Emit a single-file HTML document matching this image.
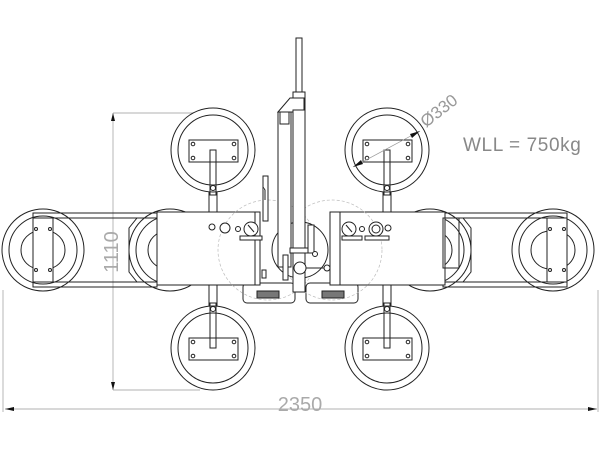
<!DOCTYPE html><html><head><style>html,body{margin:0;padding:0;background:#fff}svg{display:block}</style></head><body>
<svg width="600" height="450" viewBox="0 0 600 450" xmlns="http://www.w3.org/2000/svg" font-family="Liberation Sans, sans-serif">
<defs>
<g id="pad" fill="none" stroke="#222" stroke-width="1">
<circle r="42" fill="#fff"/><circle r="35"/>
<path d="M-19,8 A21,21 0 0 1 19,8" />
<rect x="-24" y="-10" width="49" height="22" fill="#fff"/>
<circle cx="-20" cy="-6" r="1.8"/><circle cx="21" cy="-6" r="1.8"/><circle cx="-20" cy="8" r="1.8"/><circle cx="21" cy="8" r="1.8"/>
</g>
<g id="spad" fill="none" stroke="#222" stroke-width="1">
<circle r="41" fill="#fff"/><circle r="34"/>
<path d="M-3,-19 A19,19 0 0 0 -3,19"/><path d="M3,-19 A19,19 0 0 1 3,19"/>
</g>
</defs>
<g stroke="#999" stroke-width="0.7" fill="none">
<line x1="113" y1="113" x2="113" y2="390"/>
<line x1="113" y1="113" x2="200" y2="113"/>
<line x1="113" y1="390" x2="200" y2="390"/>
<line x1="5" y1="409" x2="597" y2="409"/>
<line x1="3" y1="290" x2="3" y2="412"/>
<line x1="598" y1="290" x2="598" y2="412"/>
</g>
<path d="M113,113 l-2,8 h4z M113,390 l-2,-8 h4z M5,409 l9,-2 v4z M597,409 l-9,-2 v4z" fill="#111"/>
<text x="300" y="411" font-size="20" fill="#aaa" text-anchor="middle">2350</text>
<text transform="translate(118,252) rotate(-90)" font-size="20" fill="#aaa" text-anchor="middle">1110</text>
<g fill="#fff" stroke="#222" stroke-width="1">
<use href="#spad" x="43" y="250"/><use href="#spad" x="553" y="250"/>
<use href="#spad" x="170" y="250"/><use href="#spad" x="430" y="250"/>
<rect x="33" y="213" width="124" height="74" fill="none"/>
<line x1="33" y1="218" x2="157" y2="218"/><line x1="33" y1="282" x2="157" y2="282"/>
<rect x="443" y="213" width="124" height="74" fill="none"/>
<line x1="443" y1="218" x2="567" y2="218"/><line x1="443" y1="282" x2="567" y2="282"/>
<rect x="33" y="218" width="20" height="64"/><rect x="547" y="218" width="20" height="64"/>
<circle cx="36" cy="229" r="1.5"/><circle cx="50" cy="229" r="1.5"/><circle cx="36" cy="270" r="1.5"/><circle cx="50" cy="270" r="1.5"/>
<circle cx="550" cy="229" r="1.5"/><circle cx="564" cy="229" r="1.5"/><circle cx="550" cy="270" r="1.5"/><circle cx="564" cy="270" r="1.5"/>
<path d="M157,218 h-20 l-8,10 v44 l8,10 h20" fill="none"/>
<path d="M443,218 h20 l8,10 v44 l-8,10 h-20" fill="none"/>
</g>
<g fill="#fff" stroke="#222" stroke-width="1">
<rect x="209" y="150" width="8" height="62"/><rect x="383" y="150" width="8" height="62"/>
<rect x="209" y="285" width="8" height="63"/><rect x="383" y="285" width="8" height="63"/>
</g>
<use href="#pad" x="213" y="150"/><use href="#pad" x="387" y="150"/>
<use href="#pad" x="213" y="348"/><use href="#pad" x="387" y="348"/>
<g fill="#fff" stroke="#222" stroke-width="1">
<rect x="210" y="150" width="6" height="45" fill="none"/><circle cx="213" cy="188" r="2.5"/>
<rect x="384" y="150" width="6" height="45" fill="none"/><circle cx="387" cy="188" r="2.5"/>
<rect x="210" y="303" width="6" height="45" fill="none"/><rect x="384" y="303" width="6" height="45" fill="none"/>
<circle cx="213" cy="309" r="2.5"/><circle cx="387" cy="309" r="2.5"/>
<rect x="243" y="283" width="52" height="20" rx="4"/><rect x="306" y="283" width="52" height="20" rx="4"/>
<rect x="257" y="291" width="22" height="7" fill="#777"/><rect x="322" y="291" width="22" height="7" fill="#777"/>
<rect x="157" y="212" width="103" height="73"/>
<rect x="330" y="212" width="115" height="73"/>
<line x1="255" y1="212" x2="255" y2="285"/><line x1="340" y1="212" x2="340" y2="285"/>
</g>
<g fill="none" stroke="#bbb" stroke-width="0.7" stroke-dasharray="3,2">
<circle cx="268" cy="250" r="50"/><circle cx="332" cy="250" r="50"/>
</g>
<g fill="#fff" stroke="#222" stroke-width="1">
<circle cx="212" cy="227" r="3"/><circle cx="225" cy="228" r="5"/><circle cx="238" cy="229" r="2.5"/>
<circle cx="251" cy="229" r="7"/><line x1="248" y1="225" x2="254" y2="232"/>
<circle cx="349" cy="229" r="7"/><line x1="346" y1="225" x2="352" y2="232"/>
<circle cx="362" cy="229" r="2.5"/><circle cx="376" cy="229" r="7"/><circle cx="376" cy="229" r="4"/><circle cx="388" cy="228" r="3"/>
<rect x="240" y="236" width="22" height="4"/><rect x="342" y="236" width="20" height="4"/><rect x="365" y="236" width="24" height="4"/>
<rect x="262" y="270" width="4" height="8"/>
<circle cx="300" cy="250" r="28"/>
<rect x="296" y="38" width="6" height="60"/>
<rect x="293" y="92" width="12" height="200"/>
<path d="M278,112 l12,-14 h14 v12 h-11 v2z"/>
<rect x="278" y="112" width="13" height="155"/>
<rect x="280" y="112" width="9" height="12"/>
<rect x="263" y="176" width="5" height="45"/><path d="M265,200 v-10 l-2,-3"/>
<rect x="290" y="248" width="24" height="5"/>
<rect x="283" y="255" width="5" height="25"/>
<circle cx="300" cy="268" r="6"/><line x1="306" y1="268" x2="324" y2="268"/><circle cx="327" cy="268" r="3"/>
<rect x="308" y="225" width="6" height="28"/><circle cx="315" cy="254" r="2.5"/>
<rect x="443" y="218" width="16" height="50" fill="none"/>
</g>
<line x1="353" y1="167" x2="420" y2="131" stroke="#999" stroke-width="0.7"/>
<path d="M353,167 l8,-7 l2,4z M420,131 l-8,7 l-2,-4z" fill="#111"/>
<text transform="translate(426,128) rotate(-38)" font-size="17" fill="#999">Ø330</text>
<text x="463" y="151" font-size="19" fill="#888" letter-spacing="0.6">WLL = 750kg</text>
</svg>
</body></html>
